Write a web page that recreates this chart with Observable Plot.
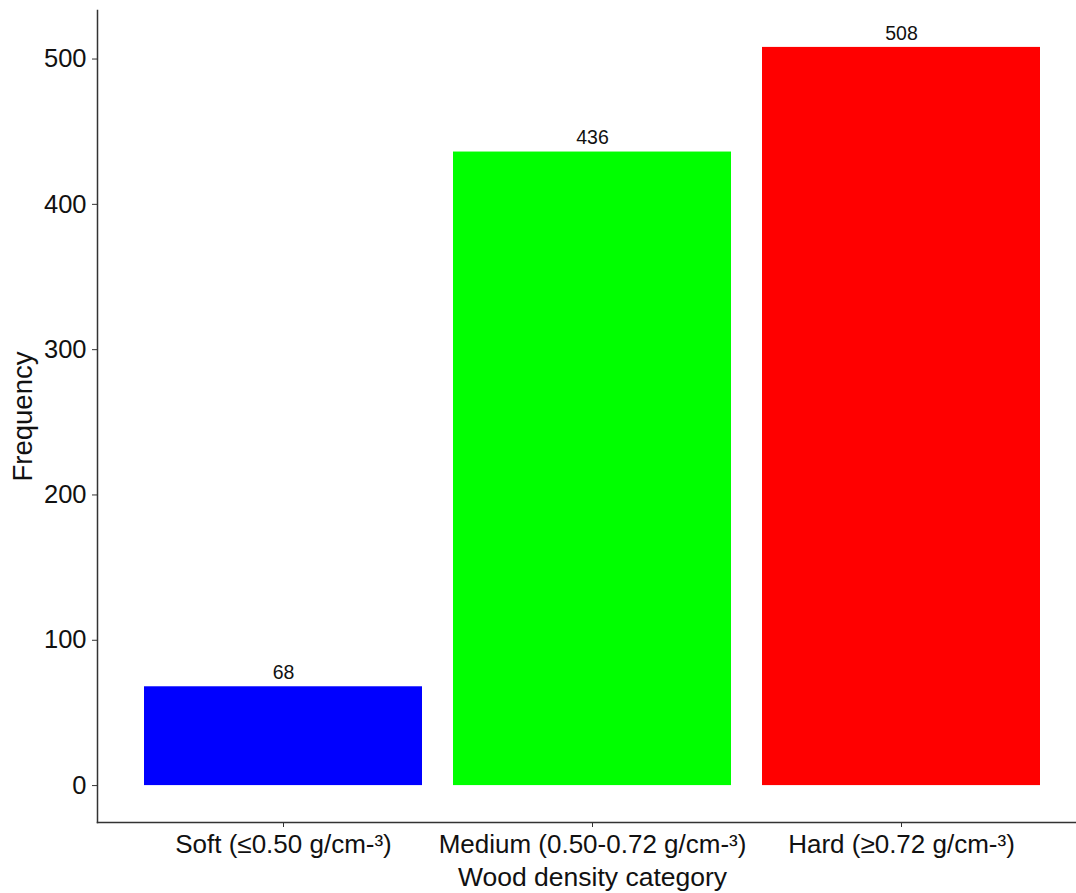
<!DOCTYPE html>
<html>
<head>
<meta charset="utf-8">
<script src="https://cdn.jsdelivr.net/npm/d3@7"></script>
<script src="https://cdn.jsdelivr.net/npm/@observablehq/plot@0.6"></script>
<style>
  html, body { margin: 0; padding: 0; background: #fff; overflow: hidden; }
  svg { font-family: "Liberation Sans", Arial, sans-serif; }
</style>
</head>
<body>
<div id="chart"></div>
<script>
const categories = ["Soft (≤0.50 g/cm-³)", "Medium (0.50-0.72 g/cm-³)", "Hard (≥0.72 g/cm-³)"];
const counts = [68, 436, 508];
const colors = ["#0000FF", "#00FF00", "#FF0000"];
const yTicks = [0, 100, 200, 300, 400, 500];

const data = categories.map((c, i) => ({category: c, count: counts[i], color: colors[i]}));

const chart = Plot.plot({
  width: 1076,
  height: 893,
  marginLeft: 97,
  marginRight: 0,
  marginTop: 10,
  marginBottom: 71,
  style: {fontFamily: "Liberation Sans, Arial, sans-serif", background: "#fff"},
  x: {type: "band", domain: categories, range: [97, 1087], paddingInner: 0.1, paddingOuter: 0.15},
  y: {domain: [-25.4, 533.4]},
  marks: [
    Plot.barY(data, {x: "category", y: "count", fill: "color"}),
    Plot.text(data, {x: "category", y: "count", text: d => String(d.count), dy: -14, fontSize: 19.5, fill: "#111"}),
    Plot.frame({anchor: "left", stroke: "#333", strokeWidth: 1.5}),
    Plot.frame({anchor: "bottom", stroke: "#333", strokeWidth: 1.5}),
    Plot.axisY({ticks: yTicks, tickSize: 5, tickPadding: 6, fontSize: 25.5, label: null, stroke: "#333", fill: "#111"}),
    Plot.axisX({tickSize: 5, tickPadding: 7, fontSize: 26, label: null, stroke: "#333", fill: "#111"}),
    Plot.text(["Frequency"], {frameAnchor: "left", textAnchor: "middle", lineAnchor: "middle", rotate: -90, dx: -74, fontSize: 27.5, fill: "#111"}),
    Plot.text(["Wood density category"], {frameAnchor: "bottom", lineAnchor: "middle", dx: 5.5, dy: 55, fontSize: 26.5, fill: "#111"})
  ]
});
document.getElementById("chart").appendChild(chart);
</script>
</body>
</html>
